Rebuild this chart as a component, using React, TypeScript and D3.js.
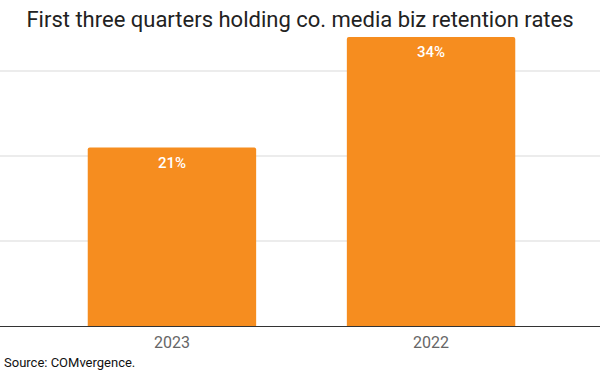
import React from "react";
import * as d3 from "d3";

const categories: string[] = ["2023", "2022"];
const values: number[] = [21, 34];
const gridTicks: number[] = [10, 20, 30];
const title = "First three quarters holding co. media biz retention rates";
const source = "Source: COMvergence.";

const W = 600;
const H = 375;

export default function App() {
  const y = d3.scaleLinear().domain([0, 40]).range([326, -14]);
  const x = d3
    .scaleBand<string>()
    .domain(categories)
    .range([17, 586])
    .paddingInner(0.35)
    .paddingOuter(0.273);
  const r = 2;
  const barPath = (x0: number, w: number, top: number, bottom: number) => {
    const p = d3.path();
    p.moveTo(x0, bottom);
    p.lineTo(x0, top + r);
    p.arcTo(x0, top, x0 + r, top, r);
    p.lineTo(x0 + w - r, top);
    p.arcTo(x0 + w, top, x0 + w, top + r, r);
    p.lineTo(x0 + w, bottom);
    p.closePath();
    return p.toString();
  };
  return (
    <svg
      width={W}
      height={H}
      style={{ position: "absolute", left: 0, top: 0, fontFamily: "Roboto, sans-serif" }}
    >
      <rect width={W} height={H} fill="#fff" />
      <text x={300} y={26.5} textAnchor="middle" fontSize={22} fill="#222">
        {title}
      </text>
      {gridTicks.map((t) => (
        <line key={t} x1={0} x2={W} y1={y(t)} y2={y(t)} stroke="#d9d9d9" strokeWidth={1} />
      ))}
      {categories.map((c, i) => {
        const x0 = x(c)!;
        const w = x.bandwidth();
        const top = y(values[i]);
        return (
          <g key={c}>
            <path d={barPath(x0, w, top, y(0))} fill="#F68D1F" />
            <text
              x={x0 + w / 2}
              y={top + 20}
              textAnchor="middle"
              fontSize={15}
              fontWeight={500}
              fill="#fff"
            >
              {values[i]}%
            </text>
            <text x={x0 + w / 2} y={348} textAnchor="middle" fontSize={16} fill="#666">
              {c}
            </text>
          </g>
        );
      })}
      <line x1={0} x2={W} y1={y(0) + 0.5} y2={y(0) + 0.5} stroke="#333" strokeWidth={1} />
      <text x={4} y={367} fontSize={13} fill="#111">
        {source}
      </text>
    </svg>
  );
}
